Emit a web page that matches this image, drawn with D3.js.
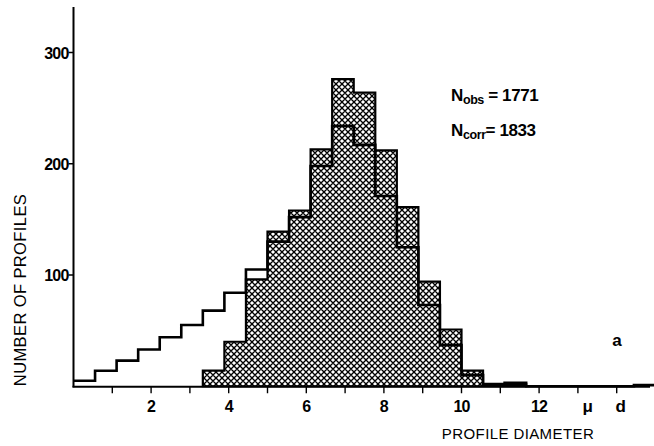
<!DOCTYPE html>
<html>
<head>
<meta charset="utf-8">
<script src="https://cdn.jsdelivr.net/npm/d3@7"></script>
<style>
  html, body { margin: 0; padding: 0; background: #fff; }
  svg { display: block; }
  text { font-family: "Liberation Sans", Arial, Helvetica, sans-serif; fill: #000; }
</style>
</head>
<body>
<svg id="chart" width="654" height="446"></svg>
<script>
// ---- data ----
const binWidth = 5 / 9;                 // bin width in diameter units
// open (outline) histogram, bins starting at 0
const openCounts = [5, 14, 23, 33, 44, 55, 68, 84, 105, 130, 152, 198, 234, 217, 171, 125, 73, 37, 10, 2, 3, 0, 0, 0, 0, 0, 1];
// hatched histogram, first bin index 6
const hatchStartBin = 6;
const hatchCounts = [14, 40, 96, 139, 158, 213, 276, 264, 212, 161, 94, 51, 14, 1, 2];
const yTicks = [100, 200, 300];
const xMinorTicks = [1, 2, 3, 4, 5, 6, 7, 8, 9, 10, 11, 12, 13, 14];
const xLabelTicks = [2, 4, 6, 8, 10, 12];
const unitLabels = [{ v: 13.25, t: "μ" }, { v: 14.1, t: "d" }];
const nLabels = [{ main: "N", sub: "obs", rest: " = 1771" }, { main: "N", sub: "corr", rest: "= 1833" }];
const panelLabel = "a";
const xTitle = "PROFILE DIAMETER";
const yTitle = "NUMBER OF PROFILES";

// ---- scales ----
const svg = d3.select("#chart");
const x = d3.scaleLinear().domain([0, 15]).range([73.5, 655.5]);
const y = d3.scaleLinear().domain([0, 300]).range([386.25, 52.5]);

// ---- pattern ----
const defs = svg.append("defs");
const T = 6;
const pat = defs.append("pattern")
  .attr("id", "hatch").attr("patternUnits", "userSpaceOnUse")
  .attr("width", T).attr("height", T);
pat.append("rect").attr("width", T).attr("height", T).attr("fill", "#fff");
pat.append("path")
  .attr("d", `M${-T/2},${T/2} L${T/2},${-T/2} M0,${T} L${T},0 M${T/2},${1.5*T} L${1.5*T},${T/2}
              M${-T/2},${T/2} L${T/2},${1.5*T} M0,0 L${T},${T} M${T/2},${-T/2} L${1.5*T},${T/2}`)
  .attr("stroke", "#000").attr("stroke-width", 1.35).attr("fill", "none");

// ---- hatched histogram ----
const hatchPts = hatchCounts.map((c, i) => [(hatchStartBin + i) * binWidth, c]);
hatchPts.push([(hatchStartBin + hatchCounts.length) * binWidth, hatchCounts[hatchCounts.length - 1]]);
const area = d3.area().curve(d3.curveStepAfter)
  .x(d => x(d[0])).y0(y(0)).y1(d => y(d[1]));
svg.append("path").datum(hatchPts)
  .attr("d", area)
  .attr("fill", "url(#hatch)")
  .attr("stroke", "#000").attr("stroke-width", 2.2).attr("stroke-linejoin", "miter");

// ---- open histogram (step line) ----
const openPts = openCounts.map((c, i) => [i * binWidth, c]);
openPts.push([openCounts.length * binWidth, openCounts[openCounts.length - 1]]);
const line = d3.line().curve(d3.curveStepAfter).x(d => x(d[0])).y(d => y(d[1]));
svg.append("path").datum(openPts)
  .attr("d", line)
  .attr("fill", "none").attr("stroke", "#000").attr("stroke-width", 2.6)
  .attr("stroke-linejoin", "miter");

// ---- axes ----
const axisG = svg.append("g");
axisG.append("line")
  .attr("x1", x(0)).attr("x2", x(0)).attr("y1", 7).attr("y2", y(0) + 1)
  .attr("stroke", "#000").attr("stroke-width", 2);
axisG.append("line")
  .attr("x1", x(0) - 1).attr("x2", 650).attr("y1", y(0) + 0.5).attr("y2", y(0) + 0.5)
  .attr("stroke", "#000").attr("stroke-width", 2);

yTicks.forEach(v => {
  axisG.append("line")
    .attr("x1", x(0) - 5).attr("x2", x(0)).attr("y1", y(v)).attr("y2", y(v))
    .attr("stroke", "#000").attr("stroke-width", 1.5);
  axisG.append("text")
    .attr("x", x(0) - 5).attr("y", y(v) + 6)
    .attr("text-anchor", "end")
    .attr("font-size", 16).attr("font-weight", "bold").attr("letter-spacing", -0.8)
    .text(v);
});

xMinorTicks.forEach(v => {
  axisG.append("line")
    .attr("x1", x(v)).attr("x2", x(v)).attr("y1", y(0)).attr("y2", y(0) + 7)
    .attr("stroke", "#000").attr("stroke-width", 1.4);
});
xLabelTicks.forEach(v => {
  axisG.append("text")
    .attr("x", x(v)).attr("y", 412)
    .attr("text-anchor", "middle")
    .attr("font-size", 16).attr("font-weight", "bold").attr("letter-spacing", -0.8)
    .text(v);
});
unitLabels.forEach(u => {
  axisG.append("text")
    .attr("x", x(u.v)).attr("y", 412)
    .attr("text-anchor", "middle")
    .attr("font-size", 17).attr("font-weight", "bold")
    .text(u.t);
});

// axis titles
svg.append("text")
  .attr("x", 518).attr("y", 439)
  .attr("text-anchor", "middle")
  .attr("font-size", 15).attr("letter-spacing", 0.4)
  .text(xTitle);
svg.append("text")
  .attr("transform", "translate(26,290) rotate(-90)")
  .attr("text-anchor", "middle")
  .attr("font-size", 16.5).attr("letter-spacing", 0.4)
  .text(yTitle);

// N annotations
nLabels.forEach((n, i) => {
  const t = svg.append("text")
    .attr("x", 451).attr("y", 101 + i * 35)
    .attr("font-size", 17).attr("font-weight", "bold").attr("letter-spacing", -0.4);
  t.append("tspan").text(n.main);
  t.append("tspan").attr("font-size", 12.5).attr("dy", 3).text(n.sub);
  t.append("tspan").attr("dy", -3).text(n.rest);
});

// panel label
svg.append("text")
  .attr("x", 617).attr("y", 346)
  .attr("text-anchor", "middle")
  .attr("font-size", 17).attr("font-weight", "bold")
  .text(panelLabel);
</script>
</body>
</html>
